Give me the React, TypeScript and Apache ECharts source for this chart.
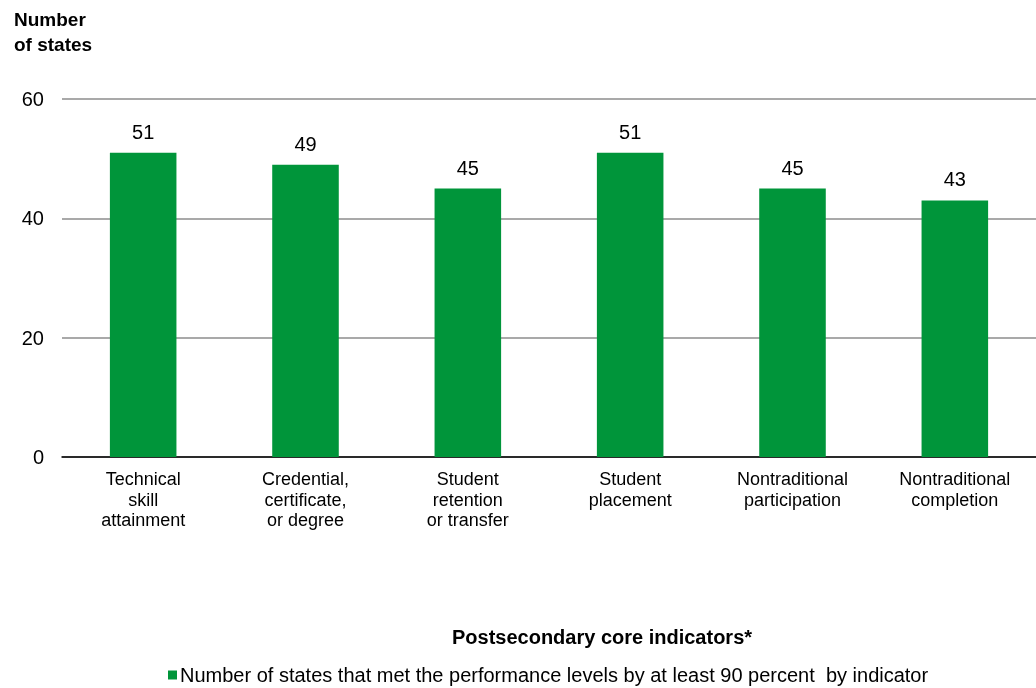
import React, { useEffect, useRef } from "react";
import * as echarts from "echarts";

const categories = [
  "Technical\nskill\nattainment",
  "Credential,\ncertificate,\nor degree",
  "Student\nretention\nor transfer",
  "Student\nplacement",
  "Nontraditional\nparticipation",
  "Nontraditional\ncompletion",
];
const values = [51, 49, 45, 51, 45, 43];
const seriesName = "Number of states that met the performance levels by at least 90 percent  by indicator";
const yTitle = "Number\nof states";
const xTitle = "Postsecondary core indicators*";

export default function App() {
  const ref = useRef<HTMLDivElement>(null);
  useEffect(() => {
    const chart = echarts.init(ref.current!, undefined, { renderer: "svg" });
    const font = "'Liberation Sans', Arial, sans-serif";
    chart.setOption({
      animation: false,
      textStyle: { fontFamily: font },
      grid: { left: 62, right: 0, top: 99, bottom: 231, containLabel: false },
      title: {
        text: yTitle,
        left: 9,
        top: 2,
        textStyle: { fontSize: 19, fontWeight: "bold", color: "#000", lineHeight: 25, fontFamily: font },
      },
      legend: {
        bottom: -2,
        left: 163,
        itemWidth: 9,
        itemHeight: 9,
        itemGap: 4,
        icon: "rect",
        textStyle: { fontSize: 20, color: "#000", fontFamily: font, padding: [0, 0, 0, -2] },
        data: [seriesName],
      },
      graphic: [
        {
          type: "text",
          x: 602,
          y: 627,
          style: { text: xTitle, font: `bold 20px ${font}`, fill: "#000", textAlign: "center" },
        },
      ],
      xAxis: {
        type: "category",
        data: categories,
        axisLine: { lineStyle: { color: "#000", width: 1.5 } },
        axisTick: { show: false },
        axisLabel: { color: "#000", fontSize: 18, lineHeight: 20.5, margin: 12, interval: 0 },
      },
      yAxis: {
        type: "value",
        min: 0,
        max: 60,
        interval: 20,
        axisLine: { show: false },
        axisTick: { show: false },
        axisLabel: { color: "#000", fontSize: 20, margin: 18 },
        splitLine: { lineStyle: { color: "#8c8c8c", width: 1.5 } },
      },
      series: [
        {
          name: seriesName,
          type: "bar",
          data: values,
          barWidth: "41%",
          itemStyle: { color: "#00953a" },
          label: { show: true, position: "top", distance: 11, color: "#000", fontSize: 20 },
        },
      ],
    });
    return () => chart.dispose();
  }, []);
  return <div ref={ref} style={{ position: "fixed", left: 0, top: 0, width: 1036, height: 688 }} />;
}
